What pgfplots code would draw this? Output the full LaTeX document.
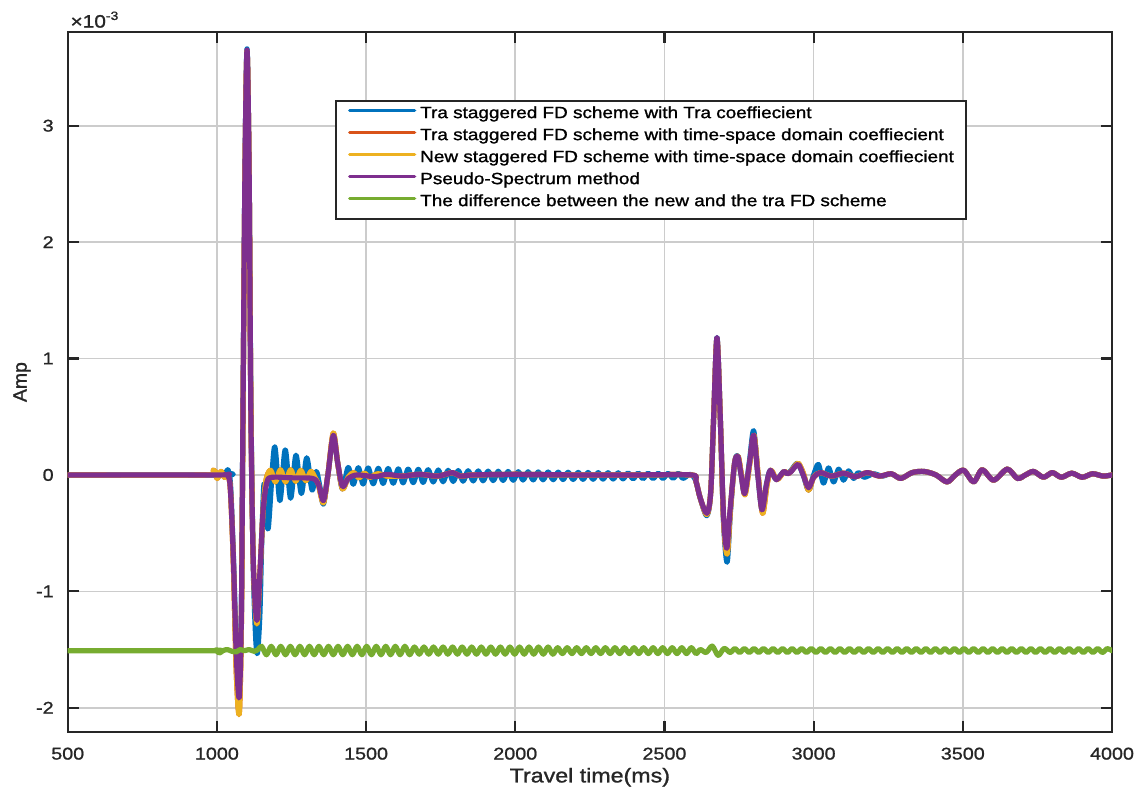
\documentclass[border=0pt]{standalone}
\usepackage{fontspec}
\setmainfont{Liberation Sans}[FakeStretch=1.16, FakeBold=1.2]
\newfontfamily\plainsans{Liberation Sans}[FakeBold=1.2]
\usepackage{pgfplots}
\usepackage{pgfplotstable}
\pgfplotsset{compat=1.18}
\definecolor{mblue}{RGB}{0,114,189}
\definecolor{morange}{RGB}{217,83,25}
\definecolor{myellow}{RGB}{237,177,32}
\definecolor{mpurple}{RGB}{126,47,142}
\definecolor{mgreen}{RGB}{119,172,48}
\definecolor{axc}{RGB}{38,38,38}

\pgfplotstableread[row sep=\\]{x y\\
500 0\\1020 0\\1030 0.02\\1038 0.04\\1046 -0.1\\1056 -0.75\\1066 -1.6\\1075 -1.9\\1082 -1.2\\1087 0.4\\1094 2.6\\1101 3.66\\1108 2.6\\1114 0.6\\1122 -0.8\\1130 -1.4\\1136 -1.53\\1144 -1.2\\1150 -0.6\\1157 -0.1\\1164 -0.15\\1172 -0.46\\1193 0.24\\1211 -0.22\\1229 0.215\\1247 -0.2\\1265 0.17\\1283 -0.16\\1301 0.147\\1319 -0.13\\1333 0.03\\1345 -0.1\\1357 -0.25\\1372 0.0\\1390 0.33\\1405 0.1\\1421 -0.12\\
1440 0.064\\1457 -0.080\\1474 0.062\\1490 -0.078\\1507 0.060\\1524 -0.076\\1541 0.057\\1557 -0.073\\1574 0.055\\1591 -0.071\\1608 0.052\\1624 -0.068\\1641 0.050\\1658 -0.066\\1675 0.048\\1691 -0.064\\1708 0.045\\1725 -0.061\\1742 0.043\\1758 -0.059\\1775 0.040\\1792 -0.056\\1809 0.038\\1825 -0.054\\1842 0.036\\1859 -0.052\\1876 0.035\\1892 -0.051\\1909 0.033\\1926 -0.049\\1943 0.032\\1959 -0.048\\1976 0.030\\1993 -0.046\\2010 0.028\\2026 -0.044\\2043 0.027\\2060 -0.043\\2077 0.026\\2093 -0.042\\2110 0.025\\2127 -0.041\\2144 0.024\\2160 -0.040\\2177 0.023\\2194 -0.039\\2211 0.022\\2227 -0.038\\2244 0.021\\2261 -0.037\\2278 0.020\\2294 -0.036\\2311 0.019\\2328 -0.035\\2345 0.018\\2361 -0.034\\2378 0.017\\2395 -0.033\\2412 0.016\\2428 -0.032\\2445 0.015\\2462 -0.031\\2479 0.014\\2495 -0.030\\2512 0.013\\2529 -0.029\\2546 0.013\\2562 -0.029\\2580 0.0\\
2592 0\\2605 -0.05\\2620 -0.2\\2642 -0.35\\2655 -0.15\\2665 0.5\\2676 1.18\\2687 0.5\\2698 -0.4\\2710 -0.75\\2721 -0.32\\2735 0.1\\2746 0.16\\2757 0.0\\2769 -0.16\\2785 0.12\\2799 0.38\\2813 0.0\\2827 -0.30\\2842 -0.08\\2855 0.04\\2875 -0.04\\2900 0.03\\2912 0.01\\2925 0.04\\2946 0.10\\2965 0.0\\2983 -0.13\\3000 0.0\\3016 0.09\\3033 -0.07\\3050 0.06\\3067 -0.06\\3084 0.05\\3100 -0.045\\3117 0.035\\3134 -0.03\\3150 0.02\\3170 -0.02\\3200 0.01\\3230 -0.01\\3260 0.01\\3292 -0.03\\
3330 0.02\\3370 0.03\\3410 0.0\\3447 -0.06\\3475 0.0\\3503 0.04\\3536 -0.06\\3565 0.045\\3603 -0.045\\3649 0.05\\3683 -0.03\\3710 0.0\\3737 0.03\\3770 -0.02\\3800 0.02\\3830 -0.02\\3865 0.015\\3900 -0.02\\3935 0.01\\3970 -0.01\\4000 0.0\\
}\bluetab

\pgfplotstableread[row sep=\\]{x y\\
500 0\\960 0\\988 0.04\\1001 -0.03\\1014 0.03\\1025 -0.02\\1035 0.0\\1045 -0.12\\1055 -0.75\\1065 -1.7\\1075 -2.05\\1082 -1.3\\1087 0.35\\1094 2.55\\1101 3.64\\1108 2.6\\1114 0.55\\1122 -0.75\\1134 -1.28\\1145 -0.8\\1155 -0.3\\1165 -0.04\\1180 0.04\\1196 -0.06\\1213 0.045\\1230 -0.06\\1247 0.045\\1264 -0.055\\1281 0.04\\1298 -0.05\\1315 0.03\\1330 -0.03\\1340 -0.08\\1357 -0.24\\1372 0.0\\1390 0.36\\1405 0.1\\1421 -0.12\\1440 -0.02\\1458 0.02\\1476 -0.025\\1494 0.015\\1512 -0.02\\1540 0.01\\1570 -0.01\\
1620 -0.01\\1680 0.005\\1740 -0.01\\1790 0.02\\1815 -0.01\\1860 0.0\\2000 0.005\\2200 0.0\\2400 0.0\\2590 0.0\\
2605 -0.05\\2620 -0.2\\2642 -0.34\\2655 -0.15\\2665 0.5\\2676 1.17\\2687 0.5\\2698 -0.38\\2710 -0.68\\2721 -0.3\\2735 0.1\\2747 0.16\\2758 0.0\\2770 -0.17\\2786 0.1\\2800 0.34\\2814 0.0\\2829 -0.33\\2844 -0.08\\2857 0.04\\2877 -0.04\\2902 0.03\\2914 0.01\\2927 0.04\\2948 0.10\\2966 0.01\\2983 -0.13\\3000 -0.02\\3023 0.02\\3060 -0.01\\3100 0.015\\3140 -0.015\\3180 0.02\\3220 -0.01\\3260 0.01\\3292 -0.03\\
3330 0.02\\3370 0.03\\3410 0.0\\3447 -0.06\\3475 0.0\\3503 0.04\\3536 -0.06\\3565 0.045\\3603 -0.045\\3649 0.05\\3683 -0.03\\3710 0.0\\3737 0.03\\3770 -0.02\\3800 0.02\\3830 -0.02\\3865 0.015\\3900 -0.02\\3935 0.01\\3970 -0.01\\4000 0.0\\
}\yellowtab

\pgfplotstableread[row sep=\\]{x y\\
500 0\\1000 0\\1035 0\\1045 -0.12\\1055 -0.7\\1065 -1.55\\1075 -1.91\\1082 -1.2\\1087 0.4\\1094 2.6\\1101 3.65\\1108 2.6\\1114 0.5\\1122 -0.75\\1134 -1.25\\1145 -0.8\\1155 -0.3\\1168 -0.06\\1185 -0.02\\1250 -0.025\\1320 -0.03\\1340 -0.08\\1357 -0.22\\1372 0.0\\1390 0.34\\1405 0.1\\1421 -0.1\\1440 -0.03\\1470 0.0\\1530 -0.015\\1570 0.005\\
1620 -0.01\\1680 0.005\\1740 -0.01\\1790 0.02\\1815 -0.01\\1860 0.0\\2000 0.005\\2200 0.0\\2400 0.0\\2590 0.0\\
2605 -0.05\\2620 -0.2\\2642 -0.33\\2655 -0.15\\2665 0.5\\2676 1.18\\2687 0.5\\2698 -0.35\\2709 -0.63\\2720 -0.3\\2735 0.1\\2746 0.16\\2757 0.0\\2769 -0.16\\2785 0.1\\2799 0.34\\2813 0.0\\2827 -0.30\\2842 -0.08\\2855 0.04\\2875 -0.04\\2900 0.03\\2912 0.01\\2925 0.03\\2948 0.09\\2965 0.0\\2983 -0.11\\3000 -0.02\\3023 0.02\\3060 -0.01\\3100 0.015\\3140 -0.015\\3180 0.02\\3220 -0.01\\3260 0.01\\3292 -0.03\\
3330 0.02\\3370 0.03\\3410 0.0\\3447 -0.06\\3475 0.0\\3503 0.04\\3536 -0.06\\3565 0.045\\3603 -0.045\\3649 0.05\\3683 -0.03\\3710 0.0\\3737 0.03\\3770 -0.02\\3800 0.02\\3830 -0.02\\3865 0.015\\3900 -0.02\\3935 0.01\\3970 -0.01\\4000 0.0\\
}\purpletab

\pgfplotstableread[row sep=\\]{x y\\
500 -1.51\\980 -1.51\\995 -1.505\\1008 -1.53\\1020 -1.51\\1035 -1.50\\1050 -1.515\\1065 -1.52\\1078 -1.50\\1092 -1.51\\1108 -1.50\\1125 -1.515\\1138 -1.50\\
1150 -1.472\\1166 -1.545\\1182 -1.472\\1198 -1.545\\1214 -1.472\\1230 -1.545\\1246 -1.472\\1262 -1.545\\1278 -1.472\\1294 -1.545\\1310 -1.472\\1326 -1.545\\1342 -1.472\\1358 -1.545\\1374 -1.472\\1390 -1.545\\1406 -1.472\\1422 -1.545\\1438 -1.472\\1454 -1.545\\1470 -1.472\\1486 -1.545\\1502 -1.472\\1518 -1.545\\1534 -1.472\\1550 -1.545\\1566 -1.472\\1582 -1.545\\1598 -1.472\\1614 -1.545\\1630 -1.472\\1646 -1.545\\
1662 -1.478\\1678 -1.54\\1694 -1.478\\1710 -1.54\\1726 -1.478\\1742 -1.54\\1758 -1.478\\1774 -1.54\\1790 -1.478\\1806 -1.54\\1822 -1.478\\1838 -1.54\\1854 -1.478\\1870 -1.54\\1886 -1.478\\1902 -1.54\\1918 -1.478\\1934 -1.54\\1950 -1.478\\1966 -1.54\\1982 -1.478\\1998 -1.54\\2014 -1.478\\2030 -1.54\\2046 -1.478\\2062 -1.54\\2078 -1.478\\2094 -1.54\\2110 -1.478\\2126 -1.54\\
2142 -1.484\\2158 -1.535\\2174 -1.484\\2190 -1.535\\2206 -1.484\\2222 -1.535\\2238 -1.484\\2254 -1.535\\2270 -1.484\\2286 -1.535\\2302 -1.484\\2318 -1.535\\2334 -1.484\\2350 -1.535\\2366 -1.484\\2382 -1.535\\2398 -1.484\\2414 -1.535\\2430 -1.484\\2446 -1.535\\2462 -1.484\\2478 -1.535\\2494 -1.484\\2510 -1.535\\2526 -1.484\\2542 -1.535\\2558 -1.484\\2574 -1.535\\2590 -1.484\\2606 -1.535\\
2620 -1.50\\2640 -1.525\\2660 -1.47\\2680 -1.55\\2700 -1.49\\2720 -1.525\\
2736 -1.492\\2752 -1.525\\2768 -1.492\\2784 -1.525\\2800 -1.492\\2816 -1.525\\2832 -1.492\\2848 -1.525\\2864 -1.492\\2880 -1.525\\2896 -1.492\\2912 -1.525\\2928 -1.492\\2944 -1.525\\2960 -1.492\\2976 -1.525\\2992 -1.492\\3008 -1.525\\3024 -1.492\\3040 -1.525\\3056 -1.492\\3072 -1.525\\3088 -1.492\\3104 -1.525\\3120 -1.492\\3136 -1.525\\3152 -1.492\\3168 -1.525\\3184 -1.492\\3200 -1.525\\3216 -1.492\\3232 -1.525\\3248 -1.492\\3264 -1.525\\3280 -1.492\\3296 -1.525\\3312 -1.492\\3328 -1.525\\3344 -1.492\\3360 -1.525\\3376 -1.492\\3392 -1.525\\3408 -1.492\\3424 -1.525\\3440 -1.492\\3456 -1.525\\3472 -1.492\\3488 -1.525\\3504 -1.492\\3520 -1.525\\3536 -1.492\\3552 -1.525\\3568 -1.492\\3584 -1.525\\3600 -1.492\\3616 -1.525\\3632 -1.492\\3648 -1.525\\3664 -1.492\\3680 -1.525\\3696 -1.492\\3712 -1.525\\3728 -1.492\\3744 -1.525\\3760 -1.492\\3776 -1.525\\3792 -1.492\\3808 -1.525\\3824 -1.492\\3840 -1.525\\3856 -1.492\\3872 -1.525\\3888 -1.492\\3904 -1.525\\3920 -1.492\\3936 -1.525\\3952 -1.492\\3968 -1.525\\3984 -1.492\\4000 -1.51\\
}\greentab

\begin{document}
\begin{tikzpicture}
\begin{axis}[
  scale only axis, width=522pt, height=350pt,
  xmin=500, xmax=4000, ymin=-2.21, ymax=3.805,
  xtick={500,1000,...,4000}, ytick={-2,-1,0,1,2,3},
  scaled ticks=false,
  /pgf/number format/1000 sep={},
  /pgf/number format/assume math mode=true,
  grid=major,
  major grid style={line width=0.8pt, color=black!20},
  axis line style={line width=1.1pt, color=axc},
  tick align=inside,
  major tick length=5.5pt,
  tick style={line width=1.1pt, color=axc},
  ticklabel style={font=\fontsize{8.5}{10}\selectfont, color=axc},
  xticklabel style={yshift=-4.2pt},
  yticklabel style={xshift=-3.5pt},
  xlabel={Travel time(ms)},
  ylabel={Amp},
  xlabel style={at={(axis description cs:0.5,-0.0643)}, anchor=center, font=\fontsize{10}{12}\selectfont, color=axc},
  ylabel style={at={(axis description cs:-0.0438,0.5)}, anchor=center, font=\plainsans\fontsize{9.7}{12}\selectfont, color=axc},
  legend cell align=left,
  legend style={at={(0.256,0.903)}, anchor=north west, draw=axc, line width=1pt, fill=white,
    inner xsep=6pt, inner ysep=2pt, font=\fontsize{8.15}{10}\selectfont, row sep=0pt, column sep=2pt,
    nodes={inner sep=0pt, text height=6.6pt, text depth=4.4pt}},
  legend image code/.code={\draw[#1, line width=1.6pt] (0pt,2.8pt) -- (32.5pt,2.8pt);},
  every axis plot/.append style={line width=2.6pt, line join=round, line cap=round},
]
\addplot[mblue, smooth] table[x=x,y=y]{\bluetab};
\addlegendentry{Tra staggered FD scheme with Tra coeffiecient}
\addplot[morange, smooth] table[x=x,y=y]{\yellowtab};
\addlegendentry{Tra staggered FD scheme with time-space domain coeffiecient}
\addplot[myellow, smooth] table[x=x,y=y]{\yellowtab};
\addlegendentry{New staggered FD scheme with time-space domain coeffiecient}
\addplot[mpurple, smooth] table[x=x,y=y]{\purpletab};
\addlegendentry{Pseudo-Spectrum method}
\addplot[mgreen, smooth] table[x=x,y=y]{\greentab};
\addlegendentry{The difference between the new and the tra FD scheme}
\end{axis}
\node[anchor=base west, inner sep=0pt, font=\fontsize{9}{10}\selectfont, color=axc] at ([shift={(1.2pt,2.2pt)}]current axis.north west) {×10\textsuperscript{-3}};
\pgfresetboundingbox
\path ([shift={(-33.85pt,-29pt)}]current axis.south west) rectangle ([shift={(13pt,16pt)}]current axis.north east);
\end{tikzpicture}
\end{document}
